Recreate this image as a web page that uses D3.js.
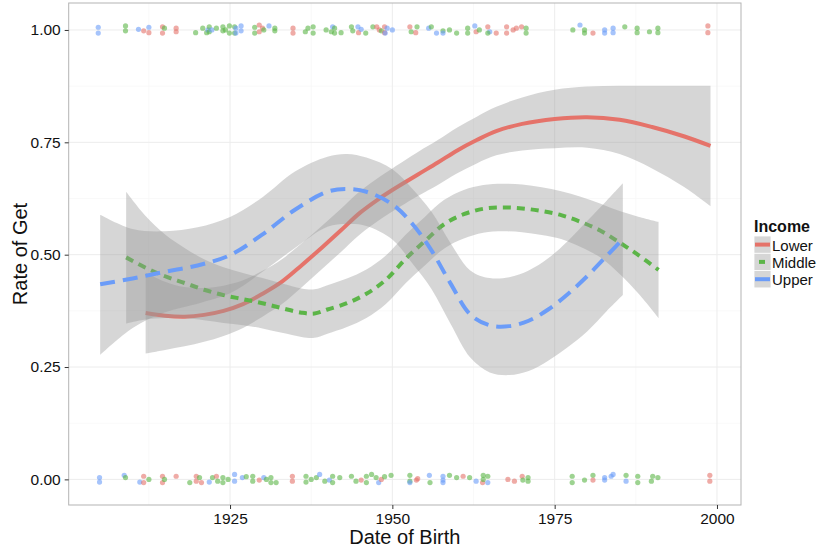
<!DOCTYPE html>
<html lang="en">
<head>
  <meta charset="UTF-8">
  <title>Rate of Get by Date of Birth</title>
  <script src="https://d3js.org/d3.v7.min.js"></script>
  <style type="text/css">
    body { margin: 0; background: #fff; }
    .axis path { display: none; }
    .axis line { stroke: #333; }
    .axis text {
      font-family: "Liberation Sans", Arial, sans-serif;
      font-size: 15.5px;
      fill: #111;
    }
  </style>
</head>
<body>
<script type="text/javascript">
  //Width and height
  var w = 819;
  var h = 550;

  //Income groups and tick labels
  var groups = ["Lower", "Middle", "Upper"];
  var xTicks = [1925, 1950, 1975, 2000];
  var xMinor = [1912.5, 1937.5, 1962.5, 1987.5];
  var yTicks = [0, 0.25, 0.5, 0.75, 1];
  var yMinor = [0.125, 0.375, 0.625, 0.875];

  //Smoothed fits (loess) and their confidence band
  var lowerYear = [1912, 1915, 1918, 1921, 1924, 1927, 1930, 1933, 1936, 1939, 1942, 1945, 1948, 1950, 1954, 1957, 1960, 1963, 1966, 1970, 1975, 1980, 1985, 1990, 1995, 1999];
  var lowerFit = [0.370, 0.364, 0.362, 0.366, 0.375, 0.390, 0.413, 0.440, 0.476, 0.514, 0.553, 0.593, 0.625, 0.644, 0.679, 0.705, 0.732, 0.755, 0.775, 0.791, 0.802, 0.806, 0.800, 0.784, 0.763, 0.742];
  var lowerHi = [0.460, 0.440, 0.428, 0.426, 0.431, 0.443, 0.464, 0.490, 0.525, 0.562, 0.601, 0.641, 0.673, 0.692, 0.729, 0.755, 0.783, 0.807, 0.829, 0.850, 0.867, 0.874, 0.876, 0.876, 0.876, 0.876];
  var lowerLo = [0.280, 0.288, 0.296, 0.306, 0.319, 0.337, 0.362, 0.390, 0.427, 0.466, 0.505, 0.545, 0.577, 0.596, 0.631, 0.655, 0.681, 0.703, 0.721, 0.732, 0.737, 0.738, 0.724, 0.692, 0.650, 0.608];

  var middleYear = [1909, 1912, 1915, 1918, 1921, 1924, 1927, 1930, 1933, 1936, 1938, 1940, 1943, 1946, 1949, 1952, 1955, 1958, 1961, 1964, 1967, 1970, 1973, 1976, 1979, 1982, 1985, 1988, 1991];
  var middleFit = [0.494, 0.471, 0.452, 0.437, 0.422, 0.410, 0.401, 0.392, 0.381, 0.371, 0.369, 0.378, 0.392, 0.413, 0.444, 0.490, 0.530, 0.568, 0.590, 0.602, 0.605, 0.603, 0.597, 0.588, 0.573, 0.554, 0.527, 0.498, 0.466];
  var middleHi = [0.640, 0.586, 0.545, 0.515, 0.490, 0.472, 0.459, 0.448, 0.436, 0.425, 0.423, 0.432, 0.447, 0.467, 0.498, 0.544, 0.584, 0.622, 0.644, 0.655, 0.658, 0.656, 0.650, 0.641, 0.629, 0.614, 0.597, 0.584, 0.573];
  var middleLo = [0.347, 0.356, 0.359, 0.359, 0.354, 0.348, 0.343, 0.336, 0.326, 0.317, 0.315, 0.324, 0.339, 0.359, 0.390, 0.436, 0.476, 0.514, 0.536, 0.549, 0.552, 0.550, 0.544, 0.535, 0.517, 0.494, 0.457, 0.412, 0.359];

  var upperYear = [1905, 1910, 1915, 1920, 1925, 1930, 1935, 1940, 1943, 1946, 1950, 1953, 1956, 1959, 1962, 1965, 1968, 1971, 1974, 1977, 1980, 1983, 1985.5];
  var upperFit = [0.434, 0.447, 0.462, 0.476, 0.499, 0.545, 0.600, 0.640, 0.646, 0.640, 0.612, 0.570, 0.510, 0.435, 0.367, 0.343, 0.341, 0.353, 0.378, 0.412, 0.452, 0.497, 0.535];
  var upperHi = [0.589, 0.557, 0.552, 0.561, 0.584, 0.628, 0.685, 0.718, 0.724, 0.716, 0.690, 0.648, 0.596, 0.525, 0.465, 0.448, 0.450, 0.465, 0.492, 0.530, 0.575, 0.620, 0.659];
  var upperLo = [0.277, 0.337, 0.372, 0.391, 0.414, 0.462, 0.515, 0.562, 0.568, 0.564, 0.534, 0.482, 0.424, 0.345, 0.271, 0.238, 0.232, 0.241, 0.264, 0.294, 0.329, 0.374, 0.410];

  //Jittered raw answers: [year, value, group index] (0 = Lower, 1 = Middle, 2 = Upper)
  var pointsGet = [
    [1904.7, 1.006, 2], [1904.7, 0.993, 2], [1908.9, 1.009, 1], [1908.9, 0.998, 1], [1910.9, 1.0015, 2],
    [1911.7, 0.998, 0], [1912.5, 0.994, 0], [1912.5, 1.006, 2], [1914.6, 1.007, 0], [1914.6, 0.993, 0],
    [1914.9, 1.004, 1], [1916.7, 1.004, 0], [1916.7, 0.996, 0], [1919.7, 0.994, 1], [1920.8, 1.004, 1],
    [1921.4, 0.994, 1], [1921.6, 1.0, 2], [1921.8, 1.007, 1], [1921.8, 0.996, 1], [1922.2, 1.0, 2],
    [1922.9, 1.004, 1], [1923.9, 1.007, 1], [1923.9, 0.998, 1], [1924.3, 1.0, 1], [1924.9, 1.009, 1],
    [1924.9, 0.993, 1], [1925.7, 1.007, 1], [1925.7, 0.993, 1], [1925.9, 1.004, 2], [1925.9, 0.993, 2],
    [1926.7, 1.009, 2], [1926.7, 0.998, 2], [1928.8, 1.006, 1], [1928.8, 0.993, 1], [1929.5, 1.011, 0],
    [1929.5, 0.996, 0], [1930.0, 1.004, 0], [1930.2, 1.0, 1], [1931.0, 1.009, 2], [1931.9, 1.004, 1],
    [1931.9, 0.998, 1], [1934.7, 1.004, 0], [1934.7, 0.993, 0], [1936.6, 0.996, 1], [1937.0, 1.004, 1],
    [1937.8, 1.007, 1], [1937.8, 0.993, 1], [1939.8, 1.0, 1], [1940.8, 1.007, 2], [1940.6, 0.996, 1],
    [1941.1, 1.004, 1], [1941.1, 0.993, 1], [1942.1, 0.994, 1], [1943.7, 1.007, 1], [1943.9, 0.998, 1],
    [1944.7, 1.007, 2], [1944.8, 0.994, 0], [1945.2, 1.0015, 2], [1945.9, 0.993, 1], [1947.0, 1.007, 1],
    [1947.6, 1.007, 0], [1948.0, 1.0, 0], [1948.3, 0.998, 1], [1948.8, 1.007, 0], [1948.8, 0.994, 0],
    [1948.9, 0.993, 2], [1949.2, 1.004, 2], [1950.0, 1.0, 2],
    [1952.7, 1.007, 0], [1952.9, 0.996, 1], [1953.6, 0.994, 0], [1953.8, 1.007, 1], [1955.6, 1.004, 2],
    [1956.0, 1.007, 1], [1956.8, 0.993, 2], [1957.8, 0.998, 1], [1957.8, 0.993, 2], [1958.8, 1.0, 1],
    [1959.9, 0.993, 1], [1961.6, 1.004, 1], [1961.6, 0.993, 1], [1962.7, 1.009, 2], [1962.9, 0.996, 0],
    [1963.4, 1.0, 1], [1964.7, 1.007, 0], [1965.0, 0.996, 2], [1964.7, 0.993, 1], [1966.0, 0.993, 0],
    [1967.6, 1.007, 0], [1967.6, 0.993, 0], [1968.6, 1.0, 0], [1969.1, 1.004, 0], [1969.9, 1.007, 0],
    [1970.6, 1.004, 1], [1970.6, 0.993, 1], [1977.8, 1.0, 1], [1978.9, 1.011, 2], [1979.6, 1.0, 1],
    [1979.6, 0.993, 1], [1980.9, 0.993, 0], [1982.7, 1.0, 2], [1982.7, 0.993, 2], [1984.0, 1.004, 2],
    [1984.0, 0.994, 2], [1985.8, 1.007, 1], [1987.7, 1.004, 1], [1987.7, 0.994, 1], [1989.6, 0.996, 1],
    [1990.9, 1.004, 1], [1990.9, 0.994, 1], [1998.6, 1.009, 0], [1998.6, 0.994, 0]
  ];

  var pointsNot = [
    [1904.9, 0.004, 2], [1904.9, -0.006, 2], [1908.7, 0.009, 2], [1908.9, 0.004, 1], [1911.1, -0.006, 2],
    [1911.7, 0.007, 0], [1911.7, -0.007, 0], [1912.5, 0.0, 1], [1914.6, 0.007, 0], [1914.6, -0.007, 0],
    [1914.9, 0.0, 1], [1916.7, 0.007, 0], [1918.8, -0.007, 1], [1919.8, 0.007, 0], [1919.8, -0.004, 0],
    [1920.3, 0.004, 1], [1920.6, -0.007, 0], [1921.8, -0.006, 2], [1922.3, 0.004, 1], [1922.9, 0.007, 0],
    [1923.1, -0.004, 1], [1923.9, 0.004, 1], [1923.9, -0.007, 1], [1924.7, 0.0, 1], [1925.7, 0.011, 2],
    [1925.7, -0.004, 2], [1926.9, 0.004, 2], [1927.5, 0.006, 1], [1928.5, 0.007, 1], [1928.5, -0.004, 1],
    [1929.5, -0.0015, 0], [1930.2, 0.004, 2], [1930.6, 0.0, 1], [1931.3, 0.004, 1], [1931.3, -0.007, 1],
    [1932.1, -0.007, 1], [1934.6, 0.007, 0], [1934.6, -0.004, 0], [1936.7, 0.007, 1], [1936.7, -0.006, 1],
    [1937.5, 0.0, 1], [1938.3, 0.004, 1], [1938.8, 0.011, 2], [1939.6, -0.004, 1], [1940.3, -0.0015, 2],
    [1940.8, 0.007, 1], [1940.8, -0.007, 1], [1941.9, 0.004, 1], [1943.7, 0.007, 1], [1944.4, -0.004, 1],
    [1945.2, -0.0015, 0], [1946.0, 0.007, 1], [1946.0, -0.007, 1], [1946.8, 0.011, 1], [1947.5, 0.004, 1],
    [1947.9, -0.007, 2], [1948.3, 0.0, 0], [1948.8, 0.006, 1], [1949.8, 0.009, 1],
    [1952.7, 0.009, 1], [1952.7, -0.004, 1], [1952.7, -0.007, 2], [1953.7, -0.0015, 0], [1953.9, 0.0015, 0],
    [1955.7, 0.009, 2], [1955.8, -0.007, 1], [1957.8, 0.007, 2], [1957.8, -0.0015, 2], [1957.8, -0.007, 2],
    [1958.8, 0.009, 1], [1959.9, 0.004, 1], [1960.9, 0.007, 0], [1961.9, 0.004, 1], [1962.9, -0.004, 2],
    [1963.9, -0.007, 0], [1964.0, 0.009, 1], [1964.0, 0.0, 1], [1964.7, 0.007, 1], [1964.7, -0.007, 2],
    [1967.8, 0.0, 0], [1968.8, -0.004, 0], [1970.0, 0.007, 0], [1970.1, -0.0015, 1], [1970.9, 0.004, 1],
    [1970.9, -0.004, 1], [1977.7, 0.007, 1], [1977.7, -0.007, 1], [1979.6, -0.0015, 1], [1980.9, 0.009, 1],
    [1980.9, -0.0015, 0], [1982.7, 0.004, 2], [1982.7, -0.0015, 2], [1983.7, 0.007, 2], [1984.0, 0.011, 2],
    [1986.0, 0.009, 1], [1986.0, -0.004, 2], [1987.8, 0.007, 1], [1987.8, -0.007, 1], [1989.9, -0.004, 1],
    [1990.1, 0.007, 1], [1990.9, 0.004, 1], [1998.9, 0.009, 0], [1998.9, -0.004, 0]
  ];

  //Build per-group tables for the smoother
  var smooths = [
    {name: groups[0], year: lowerYear, fit: lowerFit, hi: lowerHi, lo: lowerLo},
    {name: groups[1], year: middleYear, fit: middleFit, hi: middleHi, lo: middleLo},
    {name: groups[2], year: upperYear, fit: upperFit, hi: upperHi, lo: upperLo}
  ];
  smooths.forEach(function(s) {
    s.rows = s.year.map(function(y, i) {
      return {x: y, fit: s.fit[i], hi: s.hi[i], lo: s.lo[i]};
    });
  });

  var colors = ["#E5736A", "#5CB548", "#6B9CF8"];
  var dashes = [null, "8,6", "15,8"];

  //Panel edges (named so they don't clash with window.top)
  var panelL = 68.7, panelR = 741, panelT = 3, panelB = 505;

  var svg = d3.select("body")
    .append("svg")
    .attr("width", w)
    .attr("height", h);

  //Create scale functions
  var xScale = d3.scaleLinear()
    .domain([1900.15, 2003.7])
    .range([panelL, panelR]);

  var yScale = d3.scaleLinear()
    .domain([-0.057, 1.06])
    .range([panelB, panelT]);

  //grid lines
  svg.selectAll("line.minorx")
    .data(xMinor)
    .enter()
    .append("line")
    .attr("x1", function(d) { return xScale(d); })
    .attr("x2", function(d) { return xScale(d); })
    .attr("y1", panelT)
    .attr("y2", panelB)
    .attr("stroke", "#f6f6f6")
    .attr("stroke-width", 0.7);

  svg.selectAll("line.minory")
    .data(yMinor)
    .enter()
    .append("line")
    .attr("x1", panelL)
    .attr("x2", panelR)
    .attr("y1", function(d) { return yScale(d); })
    .attr("y2", function(d) { return yScale(d); })
    .attr("stroke", "#f6f6f6")
    .attr("stroke-width", 0.7);

  svg.selectAll("line.majorx")
    .data(xTicks)
    .enter()
    .append("line")
    .attr("x1", function(d) { return xScale(d); })
    .attr("x2", function(d) { return xScale(d); })
    .attr("y1", panelT)
    .attr("y2", panelB)
    .attr("stroke", "#ececec")
    .attr("stroke-width", 1);

  svg.selectAll("line.majory")
    .data(yTicks)
    .enter()
    .append("line")
    .attr("x1", panelL)
    .attr("x2", panelR)
    .attr("y1", function(d) { return yScale(d); })
    .attr("y2", function(d) { return yScale(d); })
    .attr("stroke", "#ececec")
    .attr("stroke-width", 1);

  //jittered points
  svg.selectAll("circle.pt")
    .data(pointsGet.concat(pointsNot))
    .enter()
    .append("circle")
    .attr("cx", function(d) { return xScale(d[0]); })
    .attr("cy", function(d) { return yScale(d[1]); })
    .attr("r", 2.6)
    .attr("fill", function(d) { return colors[d[2]]; })
    .attr("fill-opacity", 0.6);

  //smoothers: band then line, group by group
  var band = d3.area()
    .x(function(d) { return xScale(d.x); })
    .y0(function(d) { return yScale(d.lo); })
    .y1(function(d) { return yScale(d.hi); })
    .curve(d3.curveCatmullRom.alpha(0.5));

  var line = d3.line()
    .x(function(d) { return xScale(d.x); })
    .y(function(d) { return yScale(d.fit); })
    .curve(d3.curveCatmullRom.alpha(0.5));

  smooths.forEach(function(s, i) {
    svg.append("path")
      .datum(s.rows)
      .attr("d", band)
      .attr("fill", "#999999")
      .attr("fill-opacity", 0.4);

    svg.append("path")
      .datum(s.rows)
      .attr("d", line)
      .attr("fill", "none")
      .attr("stroke", colors[i])
      .attr("stroke-width", 4)
      .attr("stroke-dasharray", dashes[i]);
  });

  //panel border
  svg.append("rect")
    .attr("x", panelL)
    .attr("y", panelT)
    .attr("width", panelR - panelL)
    .attr("height", panelB - panelT)
    .attr("fill", "none")
    .attr("stroke", "#b3b3b3")
    .attr("stroke-width", 1);

  //axes
  var xAxis = d3.axisBottom()
    .scale(xScale)
    .tickValues(xTicks)
    .tickSize(4)
    .tickPadding(4)
    .tickFormat(d3.format("d"));

  var yAxis = d3.axisLeft()
    .scale(yScale)
    .tickValues(yTicks)
    .tickSize(4)
    .tickPadding(4)
    .tickFormat(d3.format(".2f"));

  svg.append("g")
    .attr("class", "axis")
    .attr("transform", "translate(0," + panelB + ")")
    .call(xAxis);

  svg.append("g")
    .attr("class", "axis")
    .attr("transform", "translate(" + panelL + ",0)")
    .call(yAxis);

  //axis titles
  svg.append("text")
    .attr("text-anchor", "middle")
    .attr("x", (panelL + panelR) / 2)
    .attr("y", 544)
    .attr("font-family", "Liberation Sans, Arial, sans-serif")
    .attr("font-size", "20px")
    .attr("fill", "#111")
    .text("Date of Birth");

  svg.append("text")
    .attr("text-anchor", "middle")
    .attr("transform", "translate(27," + ((panelT + panelB) / 2) + ") rotate(-90)")
    .attr("font-family", "Liberation Sans, Arial, sans-serif")
    .attr("font-size", "20px")
    .attr("fill", "#111")
    .text("Rate of Get");

  //legend
  var legend = svg.append("g")
    .attr("transform", "translate(754,0)");

  legend.append("text")
    .attr("x", 0)
    .attr("y", 232)
    .attr("font-family", "Liberation Sans, Arial, sans-serif")
    .attr("font-size", "16px")
    .attr("font-weight", "bold")
    .attr("fill", "#111")
    .text("Income");

  var keys = legend.selectAll("g.key")
    .data(groups)
    .enter()
    .append("g")
    .attr("transform", function(d, i) { return "translate(0," + (236 + i * 17.3) + ")"; });

  keys.append("rect")
    .attr("width", 17)
    .attr("height", 17.3)
    .attr("fill", "#999999")
    .attr("fill-opacity", 0.4)
    .attr("stroke", "#fff")
    .attr("stroke-width", 0.8);

  keys.append("line")
    .attr("x1", function(d, i) { return i === 1 ? 5 : 1; })
    .attr("x2", function(d, i) { return i === 1 ? 11 : 16; })
    .attr("y1", 8.6)
    .attr("y2", 8.6)
    .attr("stroke", function(d, i) { return colors[i]; })
    .attr("stroke-width", 4);

  keys.append("text")
    .attr("x", 18)
    .attr("y", 14.5)
    .attr("font-family", "Liberation Sans, Arial, sans-serif")
    .attr("font-size", "15px")
    .attr("fill", "#111")
    .text(function(d) { return d; });
</script>
</body>
</html>
